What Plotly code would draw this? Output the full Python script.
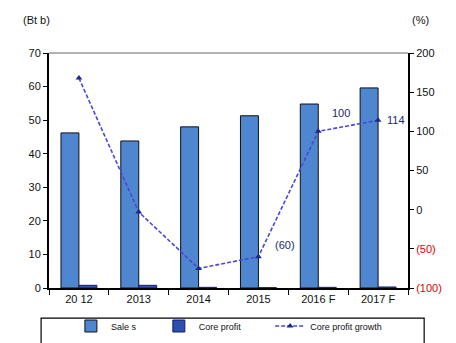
import plotly.graph_objects as go

categories = ["2012", "2013", "2014", "2015", "2016F", "2017F"]
cat_labels = ["20 12", "2013", "2014", "2015", "2016 F", "2017 F"]
sales = [46.2, 43.8, 48.0, 51.3, 54.8, 59.6]
core_profit = [0.8, 0.8, 0.2, 0.1, 0.2, 0.3]
growth = [168, -3, -75, -60, 100, 114]
growth_labels = ["", "", "", "(60)", "100", "114"]
label_shift = [(0, 0), (0, 0), (0, 0), (27, 12), (23, 18), (18, 0)]

left_ticks = [0, 10, 20, 30, 40, 50, 60, 70]
right_ticks = [-100, -50, 0, 50, 100, 150, 200]
right_ticktext = ["<span style='color:#e00000'>(100)</span>",
                  "<span style='color:#e00000'>(50)</span>",
                  "0", "50", "100", "150", "200"]

font = "Liberation Sans, Arial, sans-serif"

fig = go.Figure()
fig.add_trace(go.Bar(x=categories, y=sales, name="Sale s", legend="legend",
                     marker=dict(color="#4F86D0", line=dict(color="#111111", width=1))))
fig.add_trace(go.Bar(x=categories, y=core_profit, name="Core profit", legend="legend2",
                     marker=dict(color="#2A50B0", line=dict(color="#1a1a6a", width=1))))
fig.add_trace(go.Scatter(x=categories, y=growth, name="Core profit growth", yaxis="y2",
                         legend="legend3", mode="lines+markers",
                         line=dict(color="#4848D8", width=1.6, dash="4px,2px"),
                         marker=dict(symbol="triangle-up", size=6, color="#1a2a8a")))

annotations = [
    dict(text="(Bt b)", xref="paper", yref="paper", x=-0.036, y=1.14,
         xanchor="center", yanchor="middle", showarrow=False, font=dict(size=11)),
    dict(text="(%)", xref="paper", yref="paper", x=1.036, y=1.14,
         xanchor="center", yanchor="middle", showarrow=False, font=dict(size=11)),
]
for i, (g, t, (dx, dy)) in enumerate(zip(growth, growth_labels, label_shift)):
    if t:
        annotations.append(dict(text=t, x=i, y=g, xref="x", yref="y2", showarrow=False,
                                xshift=dx, yshift=dy, font=dict(size=11, color="#1a2a6a")))

leg_common = dict(orientation="h", xanchor="left", y=-0.10, yanchor="top",
                  borderwidth=0, font=dict(size=9), bgcolor="rgba(0,0,0,0)", itemwidth=30)

fig.update_layout(
    width=456, height=343,
    margin=dict(l=49, r=48, t=53, b=55, autoexpand=False),
    plot_bgcolor="white", paper_bgcolor="white",
    barmode="group", bargap=0.4, bargroupgap=0,
    font=dict(family=font, size=11, color="#111111"),
    xaxis=dict(type="category", tickmode="array", tickvals=categories, ticktext=cat_labels,
               range=[-0.5, len(categories) - 0.5],
               showline=True, linecolor="black", linewidth=2,
               ticks="outside", tickson="boundaries", ticklen=5, tickcolor="black",
               showgrid=False),
    yaxis=dict(range=[0, 70], tickvals=left_ticks, showline=True, linecolor="black",
               linewidth=2, ticks="outside", ticklen=4, tickcolor="black",
               showgrid=False, zeroline=False),
    yaxis2=dict(range=[-100, 200], tickvals=right_ticks, ticktext=right_ticktext,
                overlaying="y", side="right", showline=True, linecolor="black",
                linewidth=2, ticks="outside", ticklen=4, tickcolor="black",
                showgrid=False, zeroline=False),
    legend=dict(x=0.061, **leg_common),
    legend2=dict(x=0.306, **leg_common),
    legend3=dict(x=0.616, **leg_common),
    showlegend=True,
    shapes=[dict(type="line", xref="paper", yref="paper", x0=0, x1=1, y0=1, y1=1,
                 line=dict(color="#999999", width=1.5)),
            dict(type="rect", xref="paper", yref="paper", x0=-0.022, x1=1.045,
                 y0=-0.128, y1=-0.26, line=dict(color="black", width=1.2))],
    annotations=annotations,
)

fig.write_html("out.html")
